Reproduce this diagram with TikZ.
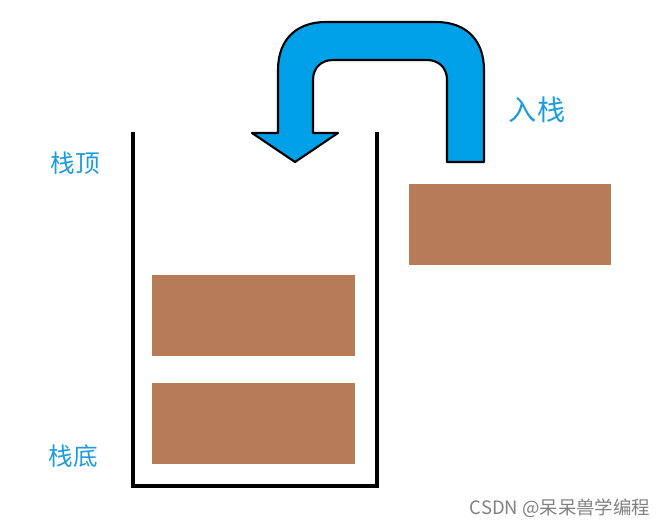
\documentclass[tikz,border=0pt]{standalone}
\usepackage{fontspec}
\setmainfont{Noto Sans CJK SC}
\usetikzlibrary{positioning}
\definecolor{brick}{HTML}{B87B58}
\definecolor{skyblue}{HTML}{00A0E8}
\definecolor{labelblue}{HTML}{1C9CDC}
\tikzset{
  block/.style={fill=brick, draw=none},
  tag/.style={text=labelblue, font=\fontsize{14}{17}\selectfont},
  wall/.style={line width=2.4pt, line join=miter}
}
\begin{document}
\begin{tikzpicture}[x=0.02cm, y=-0.02cm]
  \useasboundingbox (0,0) rectangle (662,526);

  % the stack
  \draw[wall] (133,132) -- (133,486) -- (377,486) -- (377,132);
  \fill[block] (152,275) rectangle (355,356);
  \fill[block] (152,383) rectangle (355,464);
  \fill[block] (409,184) rectangle (611,265);

  % push arrow
  \draw[fill=skyblue, line width=1.2pt, line join=round]
    (484,162) -- (484,70) .. controls (484,40) and (466,22) .. (436,22)
    -- (326,22) .. controls (296,22) and (278,40) .. (278,70)
    -- (278,133) -- (252,133) -- (295,162) -- (338,133) -- (313,133)
    -- (313,80) .. controls (313,68) and (321,60) .. (333,60)
    -- (427,60) .. controls (439,60) and (447,68) .. (447,80)
    -- (447,162) -- cycle;

  % labels
  \node[tag] (top) at (75,163) {栈顶};
  \node[tag] (bottom) at (73,456) {栈底};
  \node[tag, font=\fontsize{16}{19}\selectfont] (push) at (537,110) {入栈};
  \node[text=gray, font=\fontsize{10.5}{13}\selectfont] (mark) at (560,508) {CSDN @呆呆兽学编程};
\end{tikzpicture}
\end{document}
